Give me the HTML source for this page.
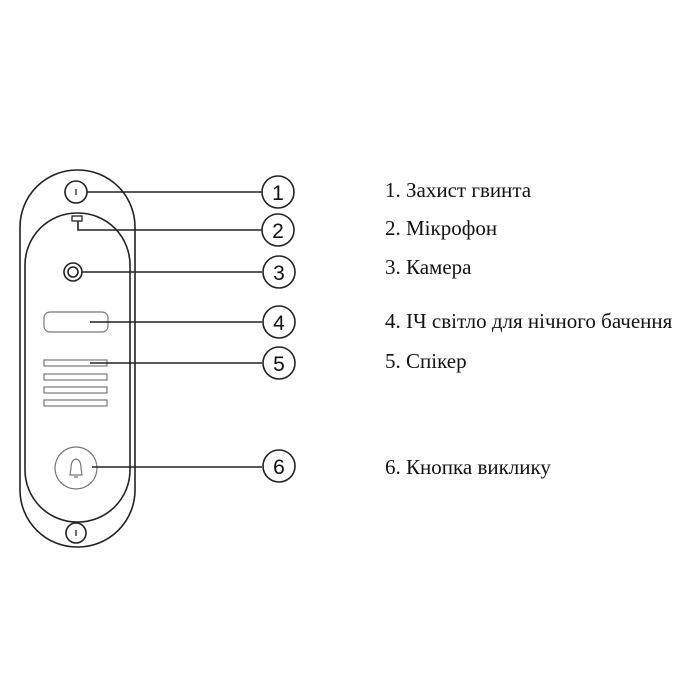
<!DOCTYPE html>
<html><head><meta charset="utf-8"><style>
html,body{margin:0;padding:0;background:#fff;width:700px;height:700px;overflow:hidden}
</style></head><body>
<svg width="700" height="700" viewBox="0 0 700 700" xmlns="http://www.w3.org/2000/svg">
<g fill="none" stroke="#222" stroke-width="1.6">
<rect x="20" y="170" width="115" height="377" rx="57" ry="57"/>
<rect x="25" y="213" width="105" height="309" rx="52" ry="52"/>
<circle cx="76" cy="192" r="11"/>
<circle cx="76" cy="533" r="10"/>
<rect x="72" y="216" width="10" height="5" stroke-width="1.3"/>
<circle cx="73" cy="272" r="9"/>
<circle cx="73" cy="272" r="5"/>
</g>
<g fill="none" stroke="#777" stroke-width="1.2">
<rect x="44" y="312" width="64" height="20" rx="6"/>
<rect x="44" y="360" width="63" height="6"/>
<rect x="44" y="374" width="63" height="6"/>
<rect x="44" y="387" width="63" height="6"/>
<rect x="44" y="400" width="63" height="6"/>
<circle cx="76" cy="468" r="21"/>
<path d="M70 475 L71 468 Q71 460 76 459 Q81 460 81 468 L82 475 Z M74 477 L78 477"/>
</g>
<g stroke="#222" stroke-width="1.6" fill="none">
<line x1="76" y1="189" x2="76" y2="195" stroke-width="1.3"/>
<line x1="76" y1="530" x2="76" y2="536" stroke-width="1.3"/>
<line x1="87" y1="192" x2="262" y2="192"/>
<polyline points="78,221 78,230 262,230"/>
<line x1="82" y1="272" x2="262" y2="272"/>
<line x1="90" y1="322" x2="262" y2="322"/>
<line x1="90" y1="363" x2="262" y2="363"/>
<line x1="92" y1="467" x2="262" y2="467"/>
<circle cx="278" cy="192" r="16"/>
<circle cx="278" cy="230" r="16"/>
<circle cx="279" cy="272" r="16"/>
<circle cx="279" cy="322" r="16"/>
<circle cx="279" cy="363" r="16"/>
<circle cx="279" cy="466" r="16"/>
</g>
<g font-family="'Liberation Sans',sans-serif" font-size="21" text-anchor="middle" fill="#111">
<text x="278" y="200">1</text>
<text x="278" y="238">2</text>
<text x="279" y="280">3</text>
<text x="279" y="330">4</text>
<text x="279" y="371">5</text>
<text x="279" y="474">6</text>
</g>
<g font-family="'Liberation Serif',serif" font-size="21" fill="#111">
<text x="385" y="197">1. Захист гвинта</text>
<text x="385" y="235">2. Мікрофон</text>
<text x="385" y="274">3. Камера</text>
<text x="385" y="328">4. ІЧ світло для нічного бачення</text>
<text x="385" y="368">5. Спікер</text>
<text x="385" y="474">6. Кнопка виклику</text>
</g>
</svg>
</body></html>
